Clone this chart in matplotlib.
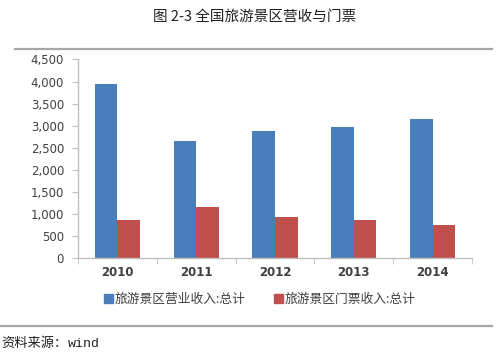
import matplotlib
matplotlib.use("Agg")
import matplotlib.pyplot as plt
import numpy as np
from matplotlib.lines import Line2D
from matplotlib.patches import Patch

plt.rcParams["font.family"] = ["Noto Sans CJK SC", "DejaVu Sans"]

# ---------------------------------------------------------------------------
# Data
# ---------------------------------------------------------------------------
years = ["2010", "2011", "2012", "2013", "2014"]
revenue = [3950, 2650, 2890, 2980, 3150]   # 旅游景区营业收入:总计
tickets = [870, 1150, 920, 860, 740]       # 旅游景区门票收入:总计
series_names = ["旅游景区营业收入:总计", "旅游景区门票收入:总计"]
y_ticks = [0, 500, 1000, 1500, 2000, 2500, 3000, 3500, 4000, 4500]

title = "图 2-3 全国旅游景区营收与门票"
source = "资料来源："
source_name = "wind"

BLUE = "#4A7EBB"
RED = "#C0504D"
AXIS = "#BFBFBF"
TEXT = "#404040"

fig = plt.figure(figsize=(5.0, 3.58), dpi=100)
ax = fig.add_axes([0.156, 0.279, 0.788, 0.555])

x = np.arange(len(years))
width = 0.288
ax.bar(x - width / 2, revenue, width, color=BLUE, edgecolor="none")
ax.bar(x + width / 2, tickets, width, color=RED, edgecolor="none")

ax.set_xlim(-0.5, len(years) - 0.5)
ax.set_ylim(0, 4500)
ax.set_yticks(y_ticks)
ax.set_yticklabels([f"{v:,}" for v in y_ticks])
ax.set_xticks(x)
ax.set_xticklabels(years, fontweight="bold")
ax.set_xticks(np.arange(-0.5, len(years)), minor=True)

for side in ("top", "right"):
    ax.spines[side].set_visible(False)
for side in ("left", "bottom"):
    ax.spines[side].set_color(AXIS)
    ax.spines[side].set_linewidth(1.0)

ax.tick_params(axis="y", length=4, color=AXIS, labelsize=8.5, labelcolor=TEXT, pad=6)
ax.tick_params(axis="x", which="major", length=0, labelsize=8.5, labelcolor=TEXT, pad=6)
ax.tick_params(axis="x", which="minor", length=4, color=AXIS)
for lbl in ax.get_yticklabels():
    lbl.set_family("DejaVu Sans")
for lbl in ax.get_xticklabels():
    lbl.set_family("DejaVu Sans")

# legend
handles = [Patch(color=BLUE), Patch(color=RED)]
fig.legend(handles, series_names, loc="center", bbox_to_anchor=(0.52, 0.163),
           ncol=2, frameon=False, fontsize=9.2, handlelength=0.7, handleheight=0.7,
           handletextpad=0.15, columnspacing=2.2, labelcolor=TEXT)

# title and rules
fig.text(0.509, 0.952, title, ha="center", va="center", fontsize=10.5, color="#222222")
fig.add_artist(Line2D([0.03, 0.984], [0.863, 0.863], color="#A6A6A6", linewidth=1.6))
fig.add_artist(Line2D([0.0, 0.984], [0.090, 0.090], color="#A6A6A6", linewidth=1.6))
src = fig.text(0.003, 0.04, source, ha="left", va="center", fontsize=9.5, color="#222222")
fig.canvas.draw()
bb = src.get_window_extent().transformed(fig.transFigure.inverted())
fig.text(bb.x1, 0.04, source_name, ha="left", va="center", fontsize=9.5,
         color="#222222", family="Liberation Mono")

fig.savefig("out.png", dpi=100, facecolor="white")
